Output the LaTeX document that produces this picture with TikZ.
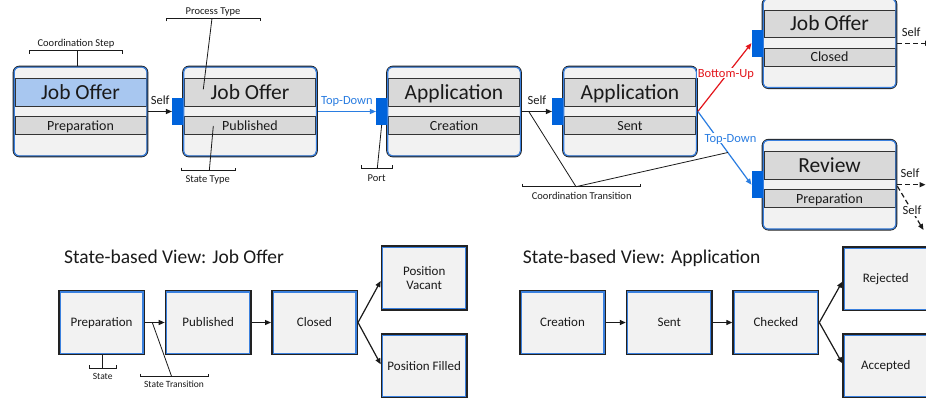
\documentclass[tikz,border=0pt]{standalone}
\usepackage{fontspec}
\setmainfont{Carlito}
\usetikzlibrary{arrows.meta,calc}

\definecolor{boxfill}{HTML}{F2F2F2}
\definecolor{bandfill}{HTML}{D9D9D9}
\definecolor{headblue}{HTML}{A8C7F0}
\definecolor{edgedark}{HTML}{222222}
\definecolor{bandline}{HTML}{333333}
\definecolor{edgeblue}{HTML}{3A80DE}
\definecolor{portblue}{HTML}{0063DB}
\definecolor{tdblue}{HTML}{2A7DE1}
\definecolor{bured}{HTML}{E3161C}
\definecolor{ink}{HTML}{1A1A1A}

\tikzset{
  stepbox/.style={draw=edgedark, line width=1.7pt, fill=boxfill, rounded corners=6pt,
    minimum width=134pt, minimum height=90pt, inner sep=0pt},
  stepinner/.style={draw=edgeblue, line width=1.2pt, rounded corners=4.5pt},
  band/.style={draw=bandline, line width=0.9pt, fill=bandfill, minimum width=131pt,
    inner sep=0pt, text=ink, text depth=0pt},
  headband/.style={band, minimum height=27.3pt, text height=13.85pt,
    font=\fontsize{21.5}{24}\selectfont},
  stateband/.style={band, minimum height=17.6pt, text height=9pt,
    font=\fontsize{14}{16}\selectfont},
  portbox/.style={fill=portblue, minimum width=11pt, minimum height=27pt, inner sep=0pt},
  statebox/.style={draw=edgedark, line width=1.5pt, fill=boxfill, minimum width=85.5pt,
    minimum height=63.6pt, inner sep=0pt, align=center, text=ink,
    font=\fontsize{13}{14.7}\selectfont,
    path picture={\draw[edgeblue, line width=3.6pt]
      (path picture bounding box.south west) rectangle (path picture bounding box.north east);}},
  capcentre/.style={text height=8.4pt, text depth=0pt},
  flow/.style={line width=1.2pt, -{Triangle[length=6pt,width=5pt]}},
  selfflow/.style={flow, draw=ink},
  tdflow/.style={flow, draw=tdblue},
  buflow/.style={flow, draw=bured},
  selfdash/.style={flow, draw=ink, dash pattern=on 5pt off 3pt},
  arrlbl/.style={font=\fontsize{12.5}{14}\selectfont, text=ink, text height=8.05pt,
    text depth=0pt, inner sep=0pt},
  note/.style={font=\fontsize{10.5}{12}\selectfont, text=ink, text height=6.8pt,
    text depth=0pt, inner sep=0pt},
  smallnote/.style={note, font=\fontsize{9.5}{11}\selectfont, text height=6.1pt},
  bracket/.style={draw=ink, line width=0.8pt},
  viewtitle/.style={font=\fontsize{19.5}{22}\selectfont, text=ink, anchor=west,
    inner sep=0pt, text height=12.6pt, text depth=0pt},
}

% A coordination step: rounded frame, process-type band, state-type band
\newcommand{\coordstep}[6]{%
  \node[stepbox] (#1) at (#2,#3) {};
  \node[headband, fill=#6] (#1-head) at ([yshift=19.2pt]#1.center) {#4};
  \node[stateband] (#1-state) at ([yshift=-14pt]#1.center) {#5};
  \draw[stepinner] ([shift={(1.5pt,-1.5pt)}]#1.north west) rectangle
                   ([shift={(-1.5pt,1.5pt)}]#1.south east);
}

\begin{document}
\begin{tikzpicture}[x=1pt,y=-1pt]
\path[use as bounding box, fill=white] (0,0) rectangle (926,404);

% ---------- coordination steps ----------
\coordstep{b1}{80.5}{111.5}{Job Offer}{Preparation}{headblue}
\coordstep{b2}{250}{111.5}{Job Offer}{Published}{bandfill}
\coordstep{b3}{454}{111.5}{Application}{Creation}{bandfill}
\coordstep{b4}{630}{111.5}{Application}{Sent}{bandfill}
\coordstep{b5}{829.5}{43.2}{Job Offer}{Closed}{bandfill}
\coordstep{b6}{829.5}{184.7}{Review}{Preparation}{bandfill}

% ports
\node[portbox] (b2-port) at ([xshift=-4.5pt]b2.west) {};
\node[portbox] (b3-port) at ([xshift=-4.5pt]b3.west) {};
\node[portbox] (b4-port) at ([xshift=-4.5pt]b4.west) {};
\node[portbox] (b5-port) at ([xshift=-4.5pt]b5.west) {};
\node[portbox] (b6-port) at ([xshift=-4.5pt]b6.west) {};

% coordination transitions
\draw[selfflow] (b1.east) -- (b2-port.west)
  node[arrlbl, midway, anchor=south, yshift=6pt] {Self};
\draw[tdflow] (b2.east) -- (b3-port.west)
  node[arrlbl, text=tdblue, midway, anchor=south, yshift=6pt] {Top-Down};
\draw[selfflow] (b3.east) -- (b4-port.west)
  node[arrlbl, midway, anchor=south, yshift=6pt] {Self};
\draw[buflow] (b4.east) -- (b5-port.west)
  node[arrlbl, text=bured, pos=0.56, xshift=-2pt, fill=white, inner sep=1pt] {Bottom-Up};
\draw[tdflow] (b4.east) -- (b6-port.west)
  node[arrlbl, text=tdblue, pos=0.366, xshift=13pt, fill=white, inner sep=1pt] {Top-Down};

% outgoing self transitions
\coordinate (out5) at (931,43.2);
\coordinate (out6a) at (925.5,184.7);
\coordinate (out6b) at (923.5,230);
\draw[selfdash] (b5.east) -- (out5)
  node[arrlbl, pos=0.41, yshift=11pt] {Self};
\draw[selfdash] (b6.east) -- (out6a)
  node[arrlbl, pos=0.45, yshift=11pt] {Self};
\draw[selfdash] ([yshift=-1.5pt]b6.east) -- (out6b)
  node[arrlbl, pos=0.56, fill=white, inner sep=1pt] {Self};

% ---------- notes on the upper diagram ----------
\node[note] (n-cstep) at (76,43) {Coordination Step};
\draw[bracket] (29.7,53.7) -- (29.7,50.7) -- (122.7,50.7) -- (122.7,53.7);
\coordinate (n-cstep-b) at (77,50.7);
\draw[bracket] (n-cstep-b) -- (n-cstep-b |- b1.north);

\node[note] (n-ptype) at (213,11) {Process Type};
\draw[bracket] (166.7,21.3) -- (166.7,18.3) -- (260,18.3) -- (260,21.3);
\coordinate (n-ptype-b) at (212,18.3);
\coordinate (n-ptype-t) at (203.3,89.3);
\draw[bracket] (n-ptype-b) -- (n-ptype-t);

\node[note] (n-stype) at (207.7,178.8) {State Type};
\draw[bracket] (181,167.7) -- (181,170.7) -- (235,170.7) -- (235,167.7);
\coordinate (n-stype-b) at (209.3,170.7);
\coordinate (n-stype-t) at (213.3,126);
\draw[bracket] (n-stype-b) -- (n-stype-t);

\node[note] (n-port) at (376.7,177.8) {Port};
\draw[bracket] (361.7,165.3) -- (361.7,168.3) -- (392.3,168.3) -- (392.3,165.3);
\coordinate (n-port-b) at (377.3,168.3);
\draw[bracket] (n-port-b) -- (b3-port.south);

\node[note] (n-ctrans) at (581.7,195.8) {Coordination Transition};
\draw[bracket] (522.7,183.7) -- (522.7,186.7) -- (640,186.7) -- (640,183.7);
\coordinate (n-ctrans-b) at (576,186.7);
\draw[bracket] (n-ctrans-b) -- ($(b3.east)!0.23!(b4-port.west)$);
\draw[bracket] (n-ctrans-b) -- ($(b4.east)!0.56!(b6-port.west)$);

% ---------- state-based view: job offer ----------
\node[viewtitle] (t-job) at (64,257) {State-based View: Job Offer};
\node[statebox, capcentre] (sprep) at (101.5,322.5) {Preparation};
\node[statebox, capcentre] (spub) at (208.2,322.5) {Published};
\node[statebox, capcentre] (sclosed) at (314.5,322.5) {Closed};
\node[statebox] (svacant) at (424.2,278) {Position\\Vacant};
\node[statebox, capcentre] (sfilled) at (424.2,365.8) {Position Filled};

\draw[selfflow] (sprep.east) -- (spub.west);
\draw[selfflow] (spub.east) -- (sclosed.west);
\draw[selfflow] (sclosed.east) -- ([yshift=-3pt]svacant.west);
\draw[selfflow] (sclosed.east) -- ([yshift=1.5pt]sfilled.west);

\node[smallnote] (n-state) at (102.7,376.8) {State};
\draw[bracket] (89.3,365.3) -- (89.3,368.3) -- (116.7,368.3) -- (116.7,365.3);
\coordinate (n-state-b) at (102.7,368.3);
\draw[bracket] (n-state-b) -- (n-state-b |- sprep.south);

\node[smallnote] (n-strans) at (174,384.8) {State Transition};
\draw[bracket] (140.7,373.7) -- (140.7,376.7) -- (208.3,376.7) -- (208.3,373.7);
\coordinate (n-strans-b) at (171.7,376.7);
\draw[bracket] (n-strans-b) -- ($(sprep.east)!0.37!(spub.west)$);

% ---------- state-based view: application ----------
\node[viewtitle] (t-app) at (522.7,257) {State-based View: Application};
\node[statebox, capcentre] (screat) at (562.5,322.5) {Creation};
\node[statebox, capcentre] (ssent) at (669.3,322.5) {Sent};
\node[statebox, capcentre] (scheck) at (775.8,322.5) {Checked};
\node[statebox, capcentre] (srej) at (885.8,278.7) {Rejected};
\node[statebox, capcentre] (sacc) at (885.8,365.7) {Accepted};

\draw[selfflow] (screat.east) -- (ssent.west);
\draw[selfflow] (ssent.east) -- (scheck.west);
\draw[selfflow] (scheck.east) -- ([yshift=-3pt]srej.west);
\draw[selfflow] (scheck.east) -- ([yshift=2.4pt]sacc.west);
\end{tikzpicture}
\end{document}
